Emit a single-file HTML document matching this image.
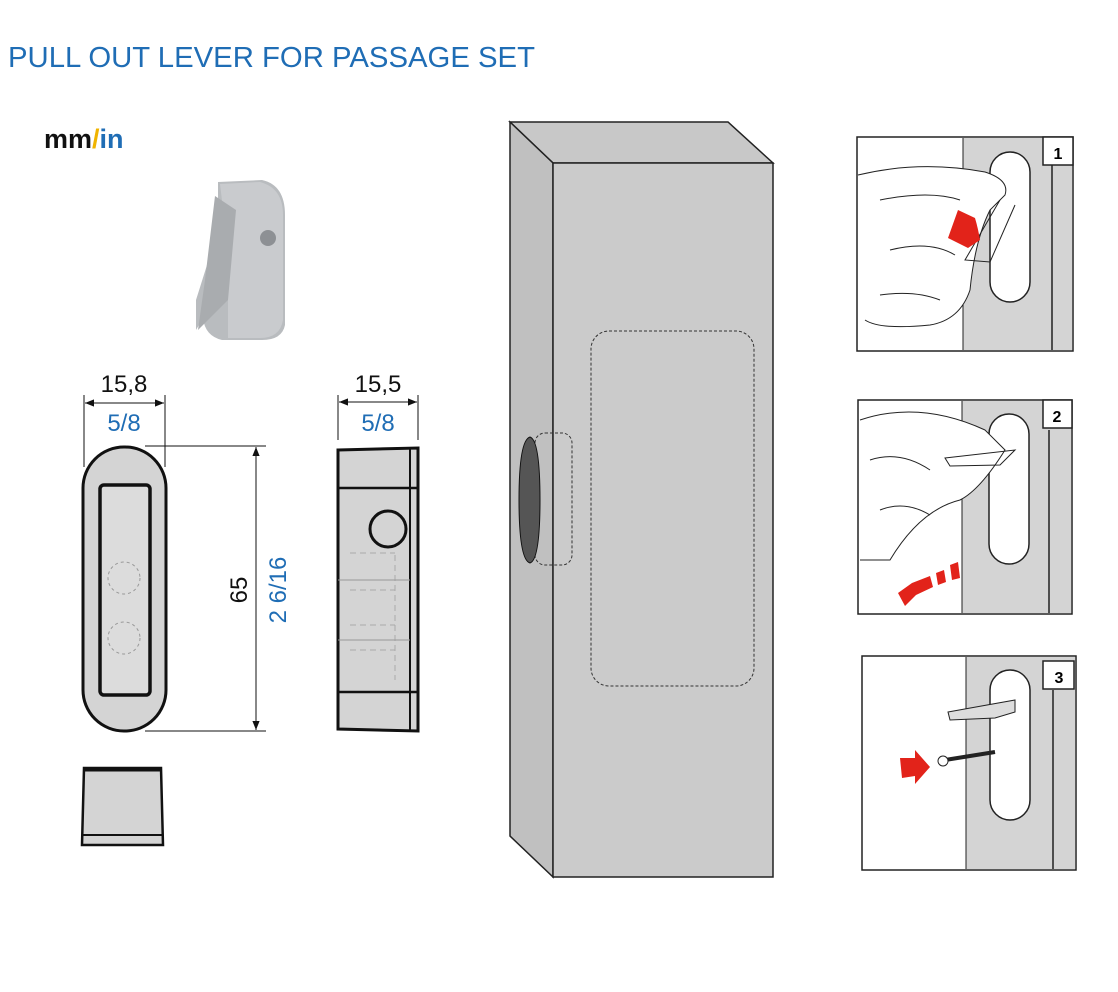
<!DOCTYPE html>
<html><head><meta charset="utf-8"><style>
html,body{margin:0;padding:0;background:#fff;width:1118px;height:992px;overflow:hidden}
svg{display:block;font-family:"Liberation Sans",sans-serif}
</style></head><body>
<svg width="1118" height="992" viewBox="0 0 1118 992" xmlns="http://www.w3.org/2000/svg">
<defs>
<marker id="a" viewBox="0 0 10 10" refX="10" refY="5" markerWidth="9" markerHeight="9" orient="auto-start-reverse"><path d="M0,1 L10,5 L0,9 z" fill="#111"/></marker>
</defs>
<text x="8" y="67" font-size="29" fill="#1f6db5" textLength="527" lengthAdjust="spacingAndGlyphs">PULL OUT LEVER FOR PASSAGE SET</text>
<text x="44" y="148" font-size="27" font-weight="bold"><tspan fill="#111">mm</tspan><tspan fill="#f0b400">/</tspan><tspan fill="#1f6db5">in</tspan></text>

<!-- 3D part -->
<path d="M218,182 L262,180 Q285,185 285,215 L285,325 Q282,340 262,340 L222,340 Q205,336 203,318 L196,330 L196,300 L218,230 Z" fill="#b9bcbf"/>
<path d="M220,184 L260,182 Q283,188 283,215 L283,320 Q280,338 260,338 L228,338 L228,250 Z" fill="#c9cbce"/>
<path d="M215,196 L236,210 L228,300 L198,330 L205,280 Z" fill="#a9acaf"/>
<circle cx="268" cy="238" r="8" fill="#8d9094"/>

<!-- front view -->
<g stroke="#111" fill="none">
<line x1="84" y1="395" x2="84" y2="467" stroke-width="1"/>
<line x1="165" y1="395" x2="165" y2="467" stroke-width="1"/>
<line x1="85" y1="403" x2="164" y2="403" stroke-width="1" marker-start="url(#a)" marker-end="url(#a)"/>
<line x1="145" y1="446" x2="266" y2="446" stroke-width="1"/>
<line x1="145" y1="731" x2="266" y2="731" stroke-width="1"/>
<line x1="256" y1="447" x2="256" y2="730" stroke-width="1" marker-start="url(#a)" marker-end="url(#a)"/>
<rect x="83" y="447" width="83" height="284" rx="41" fill="#d4d4d4" stroke-width="3"/>
<rect x="100" y="485" width="50" height="210" rx="4" fill="#dcdcdc" stroke-width="3.5"/>
<circle cx="124" cy="578" r="16" stroke="#999" stroke-dasharray="3,3"/>
<circle cx="124" cy="638" r="16" stroke="#999" stroke-dasharray="3,3"/>
<!-- side view -->
<line x1="338" y1="395" x2="338" y2="440" stroke-width="1"/>
<line x1="418" y1="395" x2="418" y2="440" stroke-width="1"/>
<line x1="339" y1="402" x2="417" y2="402" stroke-width="1" marker-start="url(#a)" marker-end="url(#a)"/>
<path d="M338,450 L418,448 L418,731 L338,729 Z" fill="#d4d4d4" stroke-width="3"/>
<line x1="410" y1="449" x2="410" y2="731" stroke-width="2"/>
<line x1="338" y1="488" x2="418" y2="488" stroke-width="2.5"/>
<line x1="338" y1="692" x2="418" y2="692" stroke-width="2.5"/>
<circle cx="388" cy="529" r="18" fill="#d4d4d4" stroke-width="3"/>
<g stroke="#aaa" stroke-dasharray="6,4"><line x1="350" y1="553" x2="395" y2="553"/><line x1="350" y1="590" x2="395" y2="590"/><line x1="350" y1="625" x2="395" y2="625"/><line x1="350" y1="650" x2="395" y2="650"/><line x1="395" y1="555" x2="395" y2="680"/></g>
<line x1="338" y1="580" x2="410" y2="580" stroke="#999"/>
<line x1="338" y1="640" x2="410" y2="640" stroke="#999"/>
<!-- cap -->
<path d="M84,768 L161,768 L163,845 L82,845 Z" fill="#d4d4d4" stroke-width="2.5"/>
<line x1="84" y1="770" x2="161" y2="770" stroke-width="3"/>
<line x1="82" y1="835" x2="163" y2="835" stroke-width="2"/>
</g>
<text x="124" y="392" font-size="24" text-anchor="middle" fill="#111">15,8</text>
<text x="124" y="431" font-size="24" text-anchor="middle" fill="#1f6db5">5/8</text>
<text x="378" y="392" font-size="24" text-anchor="middle" fill="#111">15,5</text>
<text x="378" y="431" font-size="24" text-anchor="middle" fill="#1f6db5">5/8</text>
<text transform="translate(247,590) rotate(-90)" font-size="24" text-anchor="middle" fill="#111">65</text>
<text transform="translate(286,590) rotate(-90)" font-size="24" text-anchor="middle" fill="#1f6db5">2 6/16</text>

<!-- cabinet -->
<g stroke="#222" stroke-width="1.5">
<path d="M510,122 L728,122 L773,163 L553,163 Z" fill="#c8c8c8"/>
<path d="M510,122 L553,163 L553,877 L510,836 Z" fill="#c0c0c0"/>
<rect x="553" y="163" width="220" height="714" fill="#cbcbcb"/>
</g>
<rect x="591" y="331" width="163" height="355" rx="18" fill="none" stroke="#333" stroke-dasharray="3,2"/>
<rect x="535" y="433" width="37" height="132" rx="10" fill="none" stroke="#333" stroke-dasharray="3,2"/>
<path d="M530,437 Q519,440 519,500 Q519,560 530,563 Q540,560 540,500 Q540,440 530,437 Z" fill="#555" stroke="#111"/>

<!-- panels -->
<g stroke="#222">
<rect x="857" y="137" width="216" height="214" fill="#fff" stroke-width="1.5"/>
<rect x="963" y="138" width="109" height="212" fill="#d4d4d4" stroke="none"/>
<line x1="963" y1="138" x2="963" y2="350"/><line x1="1052" y1="165" x2="1052" y2="350" stroke-width="1.5"/>
<rect x="990" y="152" width="40" height="150" rx="20" fill="#fff" stroke-width="1.5"/>
<rect x="1043" y="137" width="30" height="28" fill="#fff" stroke-width="1.5"/>
<path d="M858,175 Q920,160 985,172 Q1010,180 1005,195 L990,210 Q975,240 970,290 Q960,320 930,325 Q880,330 865,320" fill="#fff"/>
<g fill="none" stroke-width="1"><path d="M880,200 Q930,190 960,200"/><path d="M890,250 Q930,240 955,255"/><path d="M880,295 Q915,290 940,300"/><path d="M1000,200 L965,260 L990,262 L1015,205"/></g>

<rect x="858" y="400" width="214" height="214" fill="#fff" stroke-width="1.5"/>
<rect x="962" y="401" width="109" height="212" fill="#d4d4d4" stroke="none"/>
<line x1="962" y1="401" x2="962" y2="613"/><line x1="1049" y1="430" x2="1049" y2="613" stroke-width="1.5"/>
<rect x="989" y="414" width="40" height="150" rx="20" fill="#fff" stroke-width="1.5"/>
<rect x="1043" y="400" width="29" height="28" fill="#fff" stroke-width="1.5"/>
<path d="M860,420 Q920,400 985,430 L1005,450 Q980,490 960,500 Q920,510 890,560 L860,560" fill="#fff"/>
<g fill="none" stroke-width="1"><path d="M945,458 L1015,450 L1000,465 L950,466 Z"/><path d="M870,460 Q900,450 930,470"/><path d="M880,510 Q905,500 930,515"/></g>

<rect x="862" y="656" width="214" height="214" fill="#fff" stroke-width="1.5"/>
<rect x="966" y="657" width="109" height="212" fill="#d4d4d4" stroke="none"/>
<line x1="966" y1="657" x2="966" y2="869"/><line x1="1053" y1="690" x2="1053" y2="869" stroke-width="1.5"/>
<rect x="990" y="670" width="40" height="150" rx="20" fill="#fff" stroke-width="1.5"/>
<rect x="1043" y="661" width="31" height="28" fill="#fff" stroke-width="1.5"/>
<path d="M948,712 L1015,700 L1015,712 L995,718 L950,720 Z" fill="#ddd"/>
<path d="M945,760 L995,752" stroke-width="4"/>
<circle cx="943" cy="761" r="5" fill="#fff"/>
</g>
<text x="1058" y="159" font-size="16" font-weight="bold" text-anchor="middle">1</text>
<text x="1057" y="422" font-size="16" font-weight="bold" text-anchor="middle">2</text>
<text x="1059" y="683" font-size="16" font-weight="bold" text-anchor="middle">3</text>
<path d="M948,238 L958,210 L975,218 Q978,228 980,240 L968,248 Z" fill="#e2231a"/>
<path d="M898,593 L912,583 L930,576 L933,587 L916,595 L905,606 Z M936,573 L944,570 L946,582 L938,585 Z M950,565 L958,562 L960,578 L952,580 Z" fill="#e2231a"/>
<path d="M900,758 L915,758 L915,750 L930,767 L915,784 L915,776 L902,778 Z" fill="#e2231a"/>
</svg>
</body></html>
